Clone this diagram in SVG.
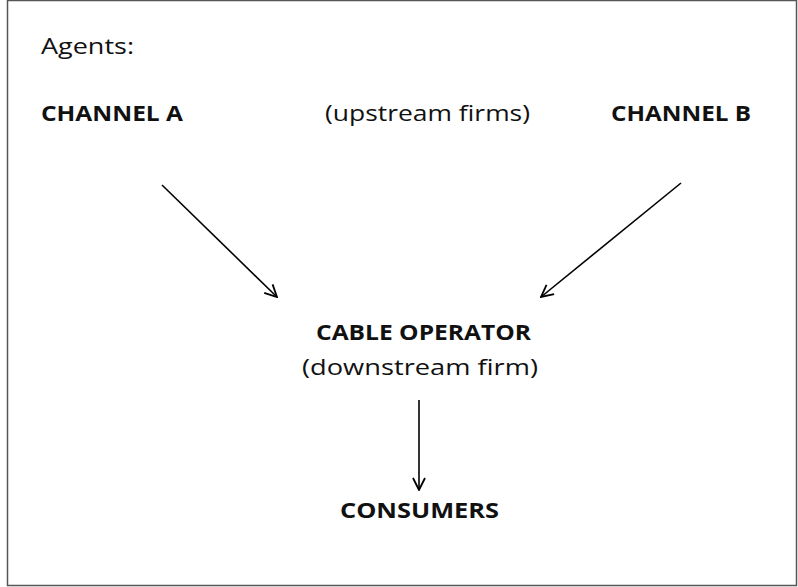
<svg xmlns="http://www.w3.org/2000/svg" width="798" height="587" viewBox="0 0 798 587">
<defs>
<style>
text{font-family:"Open Sans","Liberation Sans",sans-serif;font-size:22px;fill:#111}
.b{font-weight:bold}
.c{stroke:#000;stroke-width:1.6;fill:none}
</style>
<marker id="ah" viewBox="0 0 14 14" refX="13" refY="7" markerWidth="14" markerHeight="14" markerUnits="userSpaceOnUse" orient="auto">
<path d="M1,1 L13,7 L1,13" fill="none" stroke="#000" stroke-width="1.8"/>
</marker>
</defs>
<rect x="7.5" y="0.5" width="789" height="585" fill="#fff" stroke="#555" stroke-width="1.5"/>
<g id="agents"><text x="41" y="54" textLength="93" lengthAdjust="spacingAndGlyphs">Agents:</text></g>
<g id="channelA"><text class="b" x="41" y="121" textLength="142" lengthAdjust="spacingAndGlyphs">CHANNEL A</text></g>
<g id="upstream"><text x="325" y="121" textLength="205" lengthAdjust="spacingAndGlyphs">(upstream firms)</text></g>
<g id="channelB"><text class="b" x="611" y="121" textLength="140" lengthAdjust="spacingAndGlyphs">CHANNEL B</text></g>
<g id="cable"><text class="b" x="316" y="340" textLength="215" lengthAdjust="spacingAndGlyphs">CABLE OPERATOR</text><text x="302" y="375" textLength="236" lengthAdjust="spacingAndGlyphs">(downstream firm)</text></g>
<g id="consumers"><text class="b" x="340" y="518" textLength="159" lengthAdjust="spacingAndGlyphs">CONSUMERS</text></g>
<g id="connectors">
<line class="c" x1="162" y1="185" x2="277" y2="297" marker-end="url(#ah)"/>
<line class="c" x1="681" y1="183" x2="541" y2="297" marker-end="url(#ah)"/>
<line class="c" x1="419" y1="400" x2="419" y2="490" marker-end="url(#ah)"/>
</g>
</svg>
